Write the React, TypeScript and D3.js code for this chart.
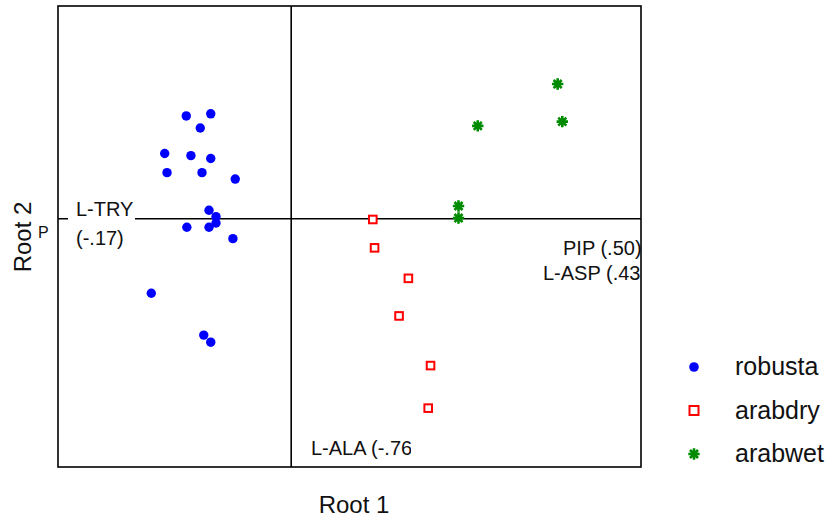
import * as d3 from "d3";

// discriminant scores: [root1, root2]
const robusta: [number, number][] = [
  [-1.8, 1.45], [-1.38, 1.48], [-1.56, 1.28], [-2.17, 0.92], [-1.72, 0.89],
  [-1.38, 0.85], [-2.13, 0.65], [-1.53, 0.65], [-0.96, 0.56], [-1.41, 0.12],
  [-1.29, 0.03], [-1.29, -0.06], [-1.79, -0.12], [-1.41, -0.12], [-1.0, -0.28],
  [-2.4, -1.05], [-1.5, -1.64], [-1.38, -1.74],
];
const arabdry: [number, number][] = [
  [1.4, -0.01], [1.43, -0.41], [2.01, -0.84], [1.85, -1.37], [2.39, -2.07], [2.35, -2.67],
];
const arabwet: [number, number][] = [
  [4.57, 1.9], [4.65, 1.37], [3.2, 1.31], [2.87, 0.18], [2.87, 0.01],
];
const groups = ["robusta", "arabdry", "arabwet"];

const W = 829;
const H = 520;
const left = 58, right = 641, top = 6, bottom = 467;
const font = "Arial, 'Liberation Sans', sans-serif";

// 8-spoke asterisk for d3.symbol
const star = {
  draw(ctx: any, size: number) {
    const r = Math.sqrt(size) / 2;
    for (let i = 0; i < 4; i++) {
      const a = (i * Math.PI) / 4;
      const dx = Math.sin(a) * r, dy = Math.cos(a) * r;
      ctx.moveTo(-dx, -dy);
      ctx.lineTo(dx, dy);
    }
  },
};

export default function App() {
  const x = d3.scaleLinear().domain([-4, 6]).range([left, right]);
  const y = d3.scaleLinear().domain([-3.5, 3]).range([bottom, top]);
  const starPath = d3.symbol(star, 130)() ?? "";

  return (
    <svg width={W} height={H} style={{ position: "absolute", left: 0, top: 0 }} fontFamily={font}>
      <defs>
        <clipPath id="plot">
          <rect x={left} y={top} width={right - left} height={bottom - top} />
        </clipPath>
        <clipPath id="ala">
          <rect x={300} y={430} width={111} height={35} />
        </clipPath>
      </defs>
      <rect width={W} height={H} fill="#fff" />

      {/* zero lines */}
      <line x1={left} x2={right} y1={y(0)} y2={y(0)} stroke="#000" strokeWidth={1.6} />
      <line x1={x(0)} x2={x(0)} y1={top} y2={bottom} stroke="#000" strokeWidth={1.6} />

      {/* variable labels */}
      <g clipPath="url(#plot)" fontSize={20} fill="#111">
        <rect x={68} y={200} width={67} height={50} fill="#fff" />
        <text x={76} y={216}>L-TRY</text>
        <text x={76} y={245}>(-.17)</text>
        <text x={563} y={255}>PIP (.50)</text>
        <text x={543} y={280}>L-ASP (.43)</text>
        <text x={311} y={455} clipPath="url(#ala)">L-ALA (-.76)</text>
      </g>
      <text x={38} y={238} fontSize={16} fill="#111">P</text>

      {/* points */}
      {robusta.map((d, i) => (
        <circle key={"r" + i} cx={x(d[0])} cy={y(d[1])} r={4.7} fill="#0000ff" />
      ))}
      {arabdry.map((d, i) => (
        <rect key={"d" + i} x={x(d[0]) - 3.8} y={y(d[1]) - 3.8} width={7.6} height={7.6}
          fill="#fff" stroke="#ff0000" strokeWidth={2} />
      ))}
      {arabwet.map((d, i) => (
        <path key={"w" + i} d={starPath} transform={`translate(${x(d[0])},${y(d[1])})`}
          stroke="#008a00" strokeWidth={2.6} fill="none" />
      ))}

      {/* frame */}
      <rect x={left} y={top} width={right - left} height={bottom - top} fill="none" stroke="#000" strokeWidth={1.6} />

      {/* axis titles */}
      <text x={354} y={513} fontSize={24} textAnchor="middle" fill="#111">Root 1</text>
      <text transform="translate(31,237) rotate(-90)" fontSize={24}
        textAnchor="middle" fill="#111">Root 2</text>

      {/* legend */}
      {groups.map((g, i) => {
        const ly = 367 + i * 43.5;
        return (
          <g key={g}>
            {i === 0 && <circle cx={694} cy={ly} r={4.8} fill="#0000ff" />}
            {i === 1 && <rect x={689.5} y={ly - 4.5} width={9} height={9} fill="#fff" stroke="#ff0000" strokeWidth={2} />}
            {i === 2 && <path d={starPath} transform={`translate(694,${ly})`} stroke="#008a00" strokeWidth={2.6} fill="none" />}
            <text x={735} y={ly + 8} fontSize={25} fill="#111">{g}</text>
          </g>
        );
      })}
    </svg>
  );
}
